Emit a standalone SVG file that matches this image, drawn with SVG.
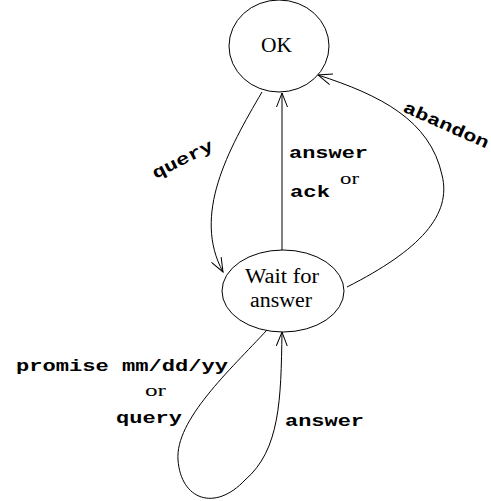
<svg xmlns="http://www.w3.org/2000/svg" width="491" height="501" viewBox="0 0 491 501">
<defs>
<style>
.node{fill:#fff;stroke:#000;stroke-width:1}
.edge{fill:none;stroke:#000;stroke-width:1;marker-end:url(#arr)}
.st{font-family:"Liberation Serif","Times New Roman",serif;font-size:20px;fill:#000}
.lb{font-family:"Liberation Mono","Courier New",monospace;font-size:17px;font-weight:bold;fill:#000}
.or{font-family:"Liberation Serif","Times New Roman",serif;font-size:16px;fill:#000}
</style>
<marker id="arr" markerWidth="16" markerHeight="12" refX="14" refY="6" orient="auto" markerUnits="userSpaceOnUse">
<path d="M0,0.5 L14,6 L0,11.5" fill="none" stroke="#000" stroke-width="1"/>
</marker>
</defs>
<g id="edges">
<path class="edge" d="M282,250 L282,93"/>
<path class="edge" d="M262,92 C228,150 192,215 223,272"/>
<path class="edge" d="M347,287 C420,250 452,215 442,175 C430,120 380,95 318,75"/>
<path class="edge" d="M267,330 C230,370 175,420 178,460 C181,500 215,512 245,480 C280,450 281,400 282,332"/>
</g>
<g id="ok">
<ellipse class="node" cx="279" cy="46" rx="50" ry="46"/>
<text class="st" x="261" y="52" textLength="31" lengthAdjust="spacingAndGlyphs">OK</text>
</g>
<g id="wait">
<ellipse class="node" cx="283" cy="291" rx="61" ry="41"/>
<text class="st" x="245" y="283" textLength="74" lengthAdjust="spacingAndGlyphs">Wait for</text>
<text class="st" x="250" y="307" textLength="62" lengthAdjust="spacingAndGlyphs">answer</text>
</g>
<g id="labels">
<text class="lb" x="185" y="164" text-anchor="middle" textLength="66" lengthAdjust="spacingAndGlyphs" transform="rotate(-27 185 164)">query</text>
<text class="lb" x="289" y="158" textLength="79" lengthAdjust="spacingAndGlyphs">answer</text>
<text class="or" x="340" y="184" textLength="19" lengthAdjust="spacingAndGlyphs">or</text>
<text class="lb" x="290" y="197" textLength="40" lengthAdjust="spacingAndGlyphs">ack</text>
<text class="lb" x="444" y="130" text-anchor="middle" textLength="92" lengthAdjust="spacingAndGlyphs" transform="rotate(24 444 130)">abandon</text>
<text class="lb" x="16" y="371" textLength="212" lengthAdjust="spacingAndGlyphs">promise mm/dd/yy</text>
<text class="or" x="145" y="396" textLength="21" lengthAdjust="spacingAndGlyphs">or</text>
<text class="lb" x="116" y="423" textLength="66" lengthAdjust="spacingAndGlyphs">query</text>
<text class="lb" x="285" y="426" textLength="79" lengthAdjust="spacingAndGlyphs">answer</text>
</g>
</svg>
